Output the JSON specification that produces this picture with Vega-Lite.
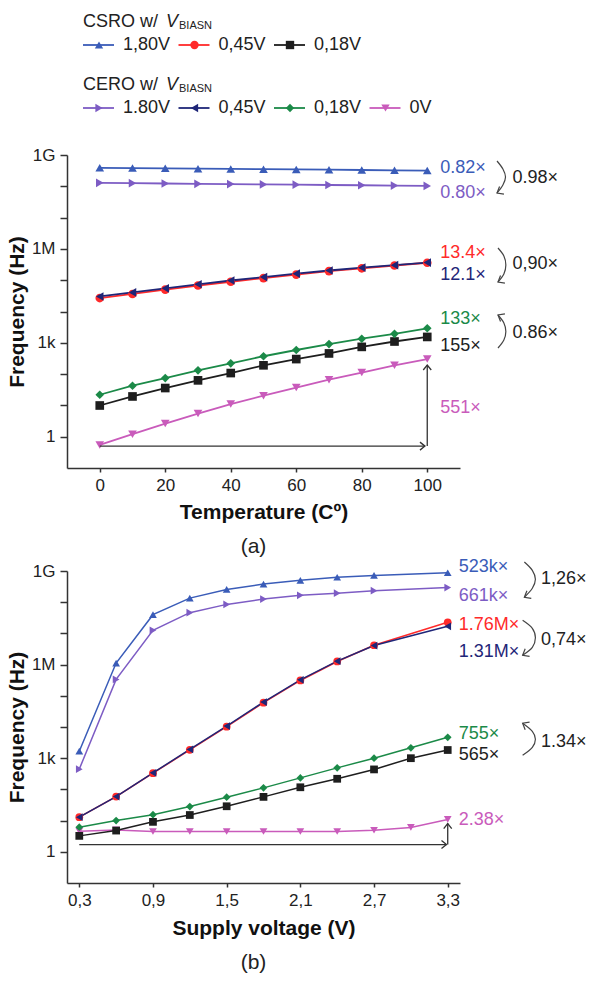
{
"$schema":"https://vega.github.io/schema/vega-lite/v6.json",
"background":"white",
"padding":{"left":6,"top":0,"right":5,"bottom":5},
"bounds":"flush",
"spacing":103,
"resolve":{"scale":{"x":"independent","y":"independent"}},
"config":{"view":{"stroke":null},"font":"Liberation Sans",
 "axis":{"grid":false,"domainColor":"#333","domainWidth":1.5,"tickColor":"#333","tickWidth":1.5,"labelFontSize":17,"labelColor":"#222","titleFontSize":21,"titleFontWeight":"bold","titleColor":"#111","labelFont":"Liberation Sans","titleFont":"Liberation Sans","labelFlush":false,"labelOverlap":false},
 "text":{"font":"Liberation Sans"}},
"datasets":{
"legend":[
 {"g":"CSRO","i":0,"s":"CSRO 1.80V","t":"1,80V"},
 {"g":"CSRO","i":1,"s":"CSRO 0.45V","t":"0,45V"},
 {"g":"CSRO","i":2,"s":"CSRO 0.18V","t":"0,18V"},
 {"g":"CERO","i":0,"s":"CERO 1.80V","t":"1.80V"},
 {"g":"CERO","i":1,"s":"CERO 0.45V","t":"0,45V"},
 {"g":"CERO","i":2,"s":"CERO 0.18V","t":"0,18V"},
 {"g":"CERO","i":3,"s":"CERO 0V","t":"0V"}],
"legendTitles":[{"g":"CSRO","t":"CSRO w/"},{"g":"CERO","t":"CERO w/"}],
"a":[
 {"x":0,"y":0.548,"s":"CERO 0V"},{"x":10,"y":1.2,"s":"CERO 0V"},{"x":20,"y":2.63,"s":"CERO 0V"},{"x":30,"y":5.5,"s":"CERO 0V"},{"x":40,"y":11.0,"s":"CERO 0V"},{"x":50,"y":20.4,"s":"CERO 0V"},{"x":60,"y":37.2,"s":"CERO 0V"},{"x":70,"y":66.1,"s":"CERO 0V"},{"x":80,"y":112,"s":"CERO 0V"},{"x":90,"y":191,"s":"CERO 0V"},{"x":100,"y":302,"s":"CERO 0V"},
 {"x":0,"y":9.93,"s":"CSRO 0.18V"},{"x":10,"y":19.3,"s":"CSRO 0.18V"},{"x":20,"y":35.9,"s":"CSRO 0.18V"},{"x":30,"y":63.1,"s":"CSRO 0.18V"},{"x":40,"y":108,"s":"CSRO 0.18V"},{"x":50,"y":191,"s":"CSRO 0.18V"},{"x":60,"y":302,"s":"CSRO 0.18V"},{"x":70,"y":457,"s":"CSRO 0.18V"},{"x":80,"y":741,"s":"CSRO 0.18V"},{"x":90,"y":1100,"s":"CSRO 0.18V"},{"x":100,"y":1540,"s":"CSRO 0.18V"},
 {"x":0,"y":21.9,"s":"CERO 0.18V"},{"x":10,"y":42.5,"s":"CERO 0.18V"},{"x":20,"y":74.8,"s":"CERO 0.18V"},{"x":30,"y":132,"s":"CERO 0.18V"},{"x":40,"y":221,"s":"CERO 0.18V"},{"x":50,"y":372,"s":"CERO 0.18V"},{"x":60,"y":589,"s":"CERO 0.18V"},{"x":70,"y":912,"s":"CERO 0.18V"},{"x":80,"y":1350,"s":"CERO 0.18V"},{"x":90,"y":1930,"s":"CERO 0.18V"},{"x":100,"y":2910,"s":"CERO 0.18V"},
 {"x":0,"y":26900,"s":"CSRO 0.45V"},{"x":10,"y":36300,"s":"CSRO 0.45V"},{"x":20,"y":50100,"s":"CSRO 0.45V"},{"x":30,"y":67600,"s":"CSRO 0.45V"},{"x":40,"y":89100,"s":"CSRO 0.45V"},{"x":50,"y":117000,"s":"CSRO 0.45V"},{"x":60,"y":151000,"s":"CSRO 0.45V"},{"x":70,"y":195000,"s":"CSRO 0.45V"},{"x":80,"y":240000,"s":"CSRO 0.45V"},{"x":90,"y":295000,"s":"CSRO 0.45V"},{"x":100,"y":361000,"s":"CSRO 0.45V"},
 {"x":0,"y":30200,"s":"CERO 0.45V"},{"x":10,"y":40700,"s":"CERO 0.45V"},{"x":20,"y":55000,"s":"CERO 0.45V"},{"x":30,"y":74100,"s":"CERO 0.45V"},{"x":40,"y":97700,"s":"CERO 0.45V"},{"x":50,"y":126000,"s":"CERO 0.45V"},{"x":60,"y":162000,"s":"CERO 0.45V"},{"x":70,"y":204000,"s":"CERO 0.45V"},{"x":80,"y":251000,"s":"CERO 0.45V"},{"x":90,"y":302000,"s":"CERO 0.45V"},{"x":100,"y":365000,"s":"CERO 0.45V"},
 {"x":0,"y":129000000,"s":"CERO 1.80V"},{"x":10,"y":126000000,"s":"CERO 1.80V"},{"x":20,"y":123000000,"s":"CERO 1.80V"},{"x":30,"y":120000000,"s":"CERO 1.80V"},{"x":40,"y":118000000,"s":"CERO 1.80V"},{"x":50,"y":115000000,"s":"CERO 1.80V"},{"x":60,"y":113000000,"s":"CERO 1.80V"},{"x":70,"y":110000000,"s":"CERO 1.80V"},{"x":80,"y":108000000,"s":"CERO 1.80V"},{"x":90,"y":105500000,"s":"CERO 1.80V"},{"x":100,"y":103000000,"s":"CERO 1.80V"},
 {"x":0,"y":389000000,"s":"CSRO 1.80V"},{"x":10,"y":381000000,"s":"CSRO 1.80V"},{"x":20,"y":374000000,"s":"CSRO 1.80V"},{"x":30,"y":367000000,"s":"CSRO 1.80V"},{"x":40,"y":360000000,"s":"CSRO 1.80V"},{"x":50,"y":353000000,"s":"CSRO 1.80V"},{"x":60,"y":346000000,"s":"CSRO 1.80V"},{"x":70,"y":339000000,"s":"CSRO 1.80V"},{"x":80,"y":332000000,"s":"CSRO 1.80V"},{"x":90,"y":325000000,"s":"CSRO 1.80V"},{"x":100,"y":319000000,"s":"CSRO 1.80V"}],
"b":[
 {"x":0.3,"y":4.57,"s":"CERO 0V"},{"x":0.6,"y":5.01,"s":"CERO 0V"},{"x":0.9,"y":4.47,"s":"CERO 0V"},{"x":1.2,"y":4.47,"s":"CERO 0V"},{"x":1.5,"y":4.47,"s":"CERO 0V"},{"x":1.8,"y":4.47,"s":"CERO 0V"},{"x":2.1,"y":4.47,"s":"CERO 0V"},{"x":2.4,"y":4.47,"s":"CERO 0V"},{"x":2.7,"y":4.9,"s":"CERO 0V"},{"x":3.0,"y":6.03,"s":"CERO 0V"},{"x":3.3,"y":10.9,"s":"CERO 0V"},
 {"x":0.3,"y":3.24,"s":"CSRO 0.18V"},{"x":0.6,"y":4.79,"s":"CSRO 0.18V"},{"x":0.9,"y":9.12,"s":"CSRO 0.18V"},{"x":1.2,"y":15.1,"s":"CSRO 0.18V"},{"x":1.5,"y":28.8,"s":"CSRO 0.18V"},{"x":1.8,"y":57.5,"s":"CSRO 0.18V"},{"x":2.1,"y":117,"s":"CSRO 0.18V"},{"x":2.4,"y":219,"s":"CSRO 0.18V"},{"x":2.7,"y":437,"s":"CSRO 0.18V"},{"x":3.0,"y":1000,"s":"CSRO 0.18V"},{"x":3.3,"y":1830,"s":"CSRO 0.18V"},
 {"x":0.3,"y":6.17,"s":"CERO 0.18V"},{"x":0.6,"y":10.0,"s":"CERO 0.18V"},{"x":0.9,"y":15.5,"s":"CERO 0.18V"},{"x":1.2,"y":28.2,"s":"CERO 0.18V"},{"x":1.5,"y":56.2,"s":"CERO 0.18V"},{"x":1.8,"y":112,"s":"CERO 0.18V"},{"x":2.1,"y":234,"s":"CERO 0.18V"},{"x":2.4,"y":490,"s":"CERO 0.18V"},{"x":2.7,"y":1000,"s":"CERO 0.18V"},{"x":3.0,"y":2150,"s":"CERO 0.18V"},{"x":3.3,"y":4660,"s":"CERO 0.18V"},
 {"x":0.3,"y":12.9,"s":"CSRO 0.45V"},{"x":0.6,"y":58.9,"s":"CSRO 0.45V"},{"x":0.9,"y":330,"s":"CSRO 0.45V"},{"x":1.2,"y":1850,"s":"CSRO 0.45V"},{"x":1.5,"y":10200,"s":"CSRO 0.45V"},{"x":1.8,"y":60000,"s":"CSRO 0.45V"},{"x":2.1,"y":310000,"s":"CSRO 0.45V"},{"x":2.4,"y":1260000,"s":"CSRO 0.45V"},{"x":2.7,"y":4170000,"s":"CSRO 0.45V"},{"x":3.3,"y":22700000,"s":"CSRO 0.45V"},
 {"x":0.3,"y":12.9,"s":"CERO 0.45V"},{"x":0.6,"y":58.9,"s":"CERO 0.45V"},{"x":0.9,"y":339,"s":"CERO 0.45V"},{"x":1.2,"y":1905,"s":"CERO 0.45V"},{"x":1.5,"y":10700,"s":"CERO 0.45V"},{"x":1.8,"y":63100,"s":"CERO 0.45V"},{"x":2.1,"y":324000,"s":"CERO 0.45V"},{"x":2.4,"y":1290000,"s":"CERO 0.45V"},{"x":2.7,"y":4070000,"s":"CERO 0.45V"},{"x":3.3,"y":16900000,"s":"CERO 0.45V"},
 {"x":0.3,"y":446,"s":"CERO 1.80V"},{"x":0.6,"y":335000,"s":"CERO 1.80V"},{"x":0.9,"y":12600000,"s":"CERO 1.80V"},{"x":1.2,"y":46200000,"s":"CERO 1.80V"},{"x":1.5,"y":85100000,"s":"CERO 1.80V"},{"x":1.8,"y":126000000,"s":"CERO 1.80V"},{"x":2.1,"y":166000000,"s":"CERO 1.80V"},{"x":2.4,"y":195000000,"s":"CERO 1.80V"},{"x":2.7,"y":234000000,"s":"CERO 1.80V"},{"x":3.3,"y":295000000,"s":"CERO 1.80V"},
 {"x":0.3,"y":1680,"s":"CSRO 1.80V"},{"x":0.6,"y":1120000,"s":"CSRO 1.80V"},{"x":0.9,"y":39800000,"s":"CSRO 1.80V"},{"x":1.2,"y":135000000,"s":"CSRO 1.80V"},{"x":1.5,"y":257000000,"s":"CSRO 1.80V"},{"x":1.8,"y":380000000,"s":"CSRO 1.80V"},{"x":2.1,"y":501000000,"s":"CSRO 1.80V"},{"x":2.4,"y":631000000,"s":"CSRO 1.80V"},{"x":2.7,"y":724000000,"s":"CSRO 1.80V"},{"x":3.3,"y":879000000,"s":"CSRO 1.80V"}],
"annA":[
 {"x":100,"y":385000000,"t":"0.82×","s":"CSRO 1.80V"},
 {"x":100,"y":59700000,"t":"0.80×","s":"CERO 1.80V"},
 {"x":100,"y":760000,"t":"13.4×","s":"CSRO 0.45V"},
 {"x":100,"y":147000,"t":"12.1×","s":"CERO 0.45V"},
 {"x":100,"y":5620,"t":"133×","s":"CERO 0.18V"},
 {"x":100,"y":794,"t":"155×","s":"CSRO 0.18V"},
 {"x":100,"y":8.26,"t":"551×","s":"CERO 0V"},
 {"x":126,"y":184000000,"t":"0.98×","s":"ratio"},
 {"x":126,"y":330000,"t":"0,90×","s":"ratio"},
 {"x":126,"y":2040,"t":"0.86×","s":"ratio"}],
"annB":[
 {"x":3.3,"y":1350000000,"t":"523k×","s":"CSRO 1.80V"},
 {"x":3.3,"y":158000000,"t":"661k×","s":"CERO 1.80V"},
 {"x":3.3,"y":19000000,"t":"1.76M×","s":"CSRO 0.45V"},
 {"x":3.3,"y":2500000,"t":"1.31M×","s":"CERO 0.45V"},
 {"x":3.3,"y":6100,"t":"755×","s":"CERO 0.18V"},
 {"x":3.3,"y":1230,"t":"565×","s":"CSRO 0.18V"},
 {"x":3.3,"y":10.2,"t":"2.38×","s":"CERO 0V"},
 {"x":4.06,"y":570000000,"t":"1,26×","s":"ratio"},
 {"x":4.06,"y":6000000,"t":"0,74×","s":"ratio"},
 {"x":4.06,"y":3300,"t":"1.34×","s":"ratio"}],
"arcA":[
 {"a":1,"k":0,"x":121.3,"y":643000000},{"a":1,"k":1,"x":123.1,"y":357000000},{"a":1,"k":2,"x":123.9,"y":198000000},{"a":1,"k":3,"x":123.1,"y":110000000},{"a":1,"k":4,"x":121.3,"y":61100000},
 {"a":2,"k":0,"x":121.6,"y":1070000},{"a":2,"k":1,"x":123.4,"y":593000},{"a":2,"k":2,"x":124.0,"y":306000},{"a":2,"k":3,"x":123.4,"y":158000},{"a":2,"k":4,"x":121.6,"y":87500},
 {"a":3,"k":0,"x":121.6,"y":7730},{"a":3,"k":1,"x":123.4,"y":4300},{"a":3,"k":2,"x":124.0,"y":2300},{"a":3,"k":3,"x":123.4,"y":1230},{"a":3,"k":4,"x":121.6,"y":682}],
"headA":[
 {"x":121.3,"y":61100000,"d":"dl"},{"x":121.6,"y":87500,"d":"dl"},{"x":121.6,"y":7730,"d":"ul"},{"x":99.3,"y":0.5,"d":"r"},{"x":100,"y":195,"d":"u"}],
"ruleA":[{"x":0,"x2":99.3,"y":0.5,"y2":0.5},{"x":100,"x2":100,"y":0.5,"y2":195}],
"arcB":[
 {"a":1,"k":0,"x":3.924,"y":1940000000},{"a":1,"k":1,"x":3.989,"y":1050000000},{"a":1,"k":2,"x":4.014,"y":542000000},{"a":1,"k":3,"x":3.989,"y":279000000},{"a":1,"k":4,"x":3.924,"y":144000000},
 {"a":2,"k":0,"x":3.91,"y":26300000},{"a":2,"k":1,"x":3.989,"y":14600000},{"a":2,"k":2,"x":4.014,"y":7230000},{"a":2,"k":3,"x":3.989,"y":3580000},{"a":2,"k":4,"x":3.91,"y":1990000},
 {"a":3,"k":0,"x":3.91,"y":13200},{"a":3,"k":1,"x":3.989,"y":7280},{"a":3,"k":2,"x":4.014,"y":4040},{"a":3,"k":3,"x":3.989,"y":2240},{"a":3,"k":4,"x":3.91,"y":1240}],
"headB":[
 {"x":3.924,"y":144000000,"d":"dl"},{"x":3.91,"y":1990000,"d":"dl"},{"x":3.91,"y":13200,"d":"ul"},{"x":3.29,"y":1.7,"d":"r"},{"x":3.3,"y":8.0,"d":"u"}],
"ruleB":[{"x":0.3,"x2":3.29,"y":1.7,"y2":1.7},{"x":3.3,"x2":3.3,"y":1.7,"y2":8.0}]
},
"vconcat":[
{
 "width":450,"height":52,
 "layer":[
  {"data":{"name":"legend"},"mark":{"type":"rule","x2Offset":31,"strokeWidth":1.8},
   "encoding":{"x":{"field":"i","type":"quantitative","scale":{"domain":[0,4],"range":[16,398]},"axis":null},"x2":{"field":"i"},
    "y":{"field":"g","type":"nominal","scale":{"type":"point","domain":["CSRO","CERO"],"range":[45,108],"padding":0},"axis":null},
    "color":{"field":"s","type":"nominal","legend":null,"scale":{"domain":["CSRO 1.80V","CSRO 0.45V","CSRO 0.18V","CERO 1.80V","CERO 0.45V","CERO 0.18V","CERO 0V"],"range":["#3a5cb8","#ff2a2a","#1e1e1e","#7d5cc4","#1f2678","#1b8a48","#c95bbb"]}}}},
  {"data":{"name":"legend"},"mark":{"type":"point","filled":true,"size":70,"opacity":1,"xOffset":16},
   "encoding":{"x":{"field":"i","type":"quantitative"},"y":{"field":"g","type":"nominal"},
    "color":{"field":"s","type":"nominal","legend":null},
    "shape":{"field":"s","type":"nominal","legend":null,"scale":{"domain":["CSRO 1.80V","CSRO 0.45V","CSRO 0.18V","CERO 1.80V","CERO 0.45V","CERO 0.18V","CERO 0V"],"range":["triangle-up","circle","square","triangle-right","triangle-left","diamond","triangle-down"]}}}},
  {"data":{"name":"legend"},"mark":{"type":"text","align":"left","baseline":"middle","dx":40,"fontSize":18,"fill":"#222"},
   "encoding":{"x":{"field":"i","type":"quantitative"},"y":{"field":"g","type":"nominal"},"text":{"field":"t"}}},
  {"data":{"name":"legendTitles"},"mark":{"type":"text","align":"left","baseline":"middle","dx":0,"dy":-23,"fontSize":18,"fill":"#222"},
   "encoding":{"x":{"datum":0,"type":"quantitative"},"y":{"field":"g","type":"nominal"},"text":{"field":"t"}}},
  {"data":{"name":"legendTitles"},"mark":{"type":"text","align":"left","baseline":"middle","dx":83,"dy":-23,"fontSize":18,"fontStyle":"italic","fill":"#222"},
   "encoding":{"x":{"datum":0,"type":"quantitative"},"y":{"field":"g","type":"nominal"},"text":{"value":"V"}}},
  {"data":{"name":"legendTitles"},"mark":{"type":"text","align":"left","baseline":"middle","dx":96,"dy":-19,"fontSize":11,"fill":"#222"},
   "encoding":{"x":{"datum":0,"type":"quantitative"},"y":{"field":"g","type":"nominal"},"text":{"value":"BIASN"}}}
 ]
},
{
 "width":393,"height":313,
 "title":{"text":"(a)","orient":"bottom","fontSize":21,"fontWeight":"normal","font":"Liberation Sans","color":"#222","offset":14,"dx":-10},
 "layer":[
  {"data":{"name":"a"},"mark":{"type":"line","strokeWidth":1.8},
   "encoding":{
    "x":{"field":"x","type":"quantitative","scale":{"domain":[-10,110],"nice":false,"zero":false},
      "axis":{"title":"Temperature (Cº)","values":[0,10,20,30,40,50,60,70,80,90,100],"labelExpr":"indexof(['0','20','40','60','80','100'], format(datum.value,'.0f'))>=0 ? format(datum.value,'.0f') : ''","tickSize":4,"labelPadding":5,"titlePadding":8}},
    "y":{"field":"y","type":"quantitative","scale":{"type":"log","domain":[0.1,1000000000],"nice":false},
      "axis":{"title":"Frequency (Hz)","values":[1,10,100,1000,10000,100000,1000000,10000000,100000000,1000000000],"labelExpr":"round(log(datum.value)/LN10)==0?'1':round(log(datum.value)/LN10)==3?'1k':round(log(datum.value)/LN10)==6?'1M':round(log(datum.value)/LN10)==9?'1G':''","tickSize":7,"labelPadding":5,"titlePadding":4}},
    "color":{"field":"s","type":"nominal","legend":null,"scale":{"domain":["CSRO 1.80V","CSRO 0.45V","CSRO 0.18V","CERO 1.80V","CERO 0.45V","CERO 0.18V","CERO 0V"],"range":["#3a5cb8","#ff2a2a","#1e1e1e","#7d5cc4","#1f2678","#1b8a48","#c95bbb"]}}}},
  {"data":{"name":"a"},"mark":{"type":"point","filled":true,"size":75,"opacity":1},
   "encoding":{"x":{"field":"x","type":"quantitative"},"y":{"field":"y","type":"quantitative"},
    "color":{"field":"s","type":"nominal","legend":null},
    "shape":{"field":"s","type":"nominal","legend":null,"scale":{"domain":["CSRO 1.80V","CSRO 0.45V","CSRO 0.18V","CERO 1.80V","CERO 0.45V","CERO 0.18V","CERO 0V"],"range":["triangle-up","circle","square","triangle-right","triangle-left","diamond","triangle-down"]}}}},
  {"data":{"name":"ruleA"},"mark":{"type":"rule","color":"#333","strokeWidth":1.3},
   "encoding":{"x":{"field":"x","type":"quantitative"},"x2":{"field":"x2"},"y":{"field":"y","type":"quantitative"},"y2":{"field":"y2"}}},
  {"data":{"name":"arcA"},"mark":{"type":"line","color":"#444","strokeWidth":1.2,"interpolate":"cardinal"},
   "encoding":{"x":{"field":"x","type":"quantitative"},"y":{"field":"y","type":"quantitative"},"detail":{"field":"a"},"order":{"field":"k"}}},
  {"data":{"name":"headA"},"transform":[{"filter":"datum.d=='dl'"}],"mark":{"type":"point","shape":"M-0.8,-1L0,0L0.8,-1","filled":false,"stroke":"#444","strokeWidth":1.2,"size":120,"angle":60,"opacity":1},
   "encoding":{"x":{"field":"x","type":"quantitative"},"y":{"field":"y","type":"quantitative"}}},
  {"data":{"name":"headA"},"transform":[{"filter":"datum.d=='ul'"}],"mark":{"type":"point","shape":"M-0.8,-1L0,0L0.8,-1","filled":false,"stroke":"#444","strokeWidth":1.2,"size":120,"angle":120,"opacity":1},
   "encoding":{"x":{"field":"x","type":"quantitative"},"y":{"field":"y","type":"quantitative"}}},
  {"data":{"name":"headA"},"transform":[{"filter":"datum.d=='r'"}],"mark":{"type":"point","shape":"M-0.8,-1L0,0L0.8,-1","filled":false,"stroke":"#333","strokeWidth":1.3,"size":100,"angle":270,"opacity":1},
   "encoding":{"x":{"field":"x","type":"quantitative"},"y":{"field":"y","type":"quantitative"}}},
  {"data":{"name":"headA"},"transform":[{"filter":"datum.d=='u'"}],"mark":{"type":"point","shape":"M-0.8,-1L0,0L0.8,-1","filled":false,"stroke":"#333","strokeWidth":1.3,"size":100,"angle":180,"opacity":1},
   "encoding":{"x":{"field":"x","type":"quantitative"},"y":{"field":"y","type":"quantitative"}}},
  {"data":{"name":"annA"},"transform":[{"filter":"datum.s!='ratio'"}],"mark":{"type":"text","align":"left","baseline":"middle","dx":13,"fontSize":18},
   "encoding":{"x":{"field":"x","type":"quantitative"},"y":{"field":"y","type":"quantitative"},"text":{"field":"t"},"color":{"field":"s","type":"nominal","legend":null}}},
  {"data":{"name":"annA"},"transform":[{"filter":"datum.s=='ratio'"}],"mark":{"type":"text","align":"left","baseline":"middle","fontSize":18,"fill":"#222"},
   "encoding":{"x":{"field":"x","type":"quantitative"},"y":{"field":"y","type":"quantitative"},"text":{"field":"t"}}}
 ]
},
{
 "width":393,"height":312,
 "title":{"text":"(b)","orient":"bottom","fontSize":21,"fontWeight":"normal","font":"Liberation Sans","color":"#222","offset":14,"dx":-10},
 "layer":[
  {"data":{"name":"b"},"mark":{"type":"line","strokeWidth":1.5},
   "encoding":{
    "x":{"field":"x","type":"quantitative","scale":{"domain":[0.2,3.4],"nice":false,"zero":false},
      "axis":{"title":"Supply voltage (V)","values":[0.3,0.6,0.9,1.2,1.5,1.8,2.1,2.4,2.7,3.0,3.3],"labelExpr":"indexof(['0.3','0.9','1.5','2.1','2.7','3.3'], format(datum.value,'.1f'))>=0 ? replace(format(datum.value,'.1f'),'.',',') : ''","tickSize":4,"labelPadding":5,"titlePadding":9}},
    "y":{"field":"y","type":"quantitative","scale":{"type":"log","domain":[0.1,1000000000],"nice":false},
      "axis":{"title":"Frequency (Hz)","values":[1,10,100,1000,10000,100000,1000000,10000000,100000000,1000000000],"labelExpr":"round(log(datum.value)/LN10)==0?'1':round(log(datum.value)/LN10)==3?'1k':round(log(datum.value)/LN10)==6?'1M':round(log(datum.value)/LN10)==9?'1G':''","tickSize":7,"labelPadding":5,"titlePadding":4}},
    "color":{"field":"s","type":"nominal","legend":null,"scale":{"domain":["CSRO 1.80V","CSRO 0.45V","CSRO 0.18V","CERO 1.80V","CERO 0.45V","CERO 0.18V","CERO 0V"],"range":["#3a5cb8","#ff2a2a","#1e1e1e","#7d5cc4","#1f2678","#1b8a48","#c95bbb"]}}}},
  {"data":{"name":"b"},"mark":{"type":"point","filled":true,"size":60,"opacity":1},
   "encoding":{"x":{"field":"x","type":"quantitative"},"y":{"field":"y","type":"quantitative"},
    "color":{"field":"s","type":"nominal","legend":null},
    "shape":{"field":"s","type":"nominal","legend":null,"scale":{"domain":["CSRO 1.80V","CSRO 0.45V","CSRO 0.18V","CERO 1.80V","CERO 0.45V","CERO 0.18V","CERO 0V"],"range":["triangle-up","circle","square","triangle-right","triangle-left","diamond","triangle-down"]}}}},
  {"data":{"name":"ruleB"},"mark":{"type":"rule","color":"#333","strokeWidth":1.3},
   "encoding":{"x":{"field":"x","type":"quantitative"},"x2":{"field":"x2"},"y":{"field":"y","type":"quantitative"},"y2":{"field":"y2"}}},
  {"data":{"name":"arcB"},"mark":{"type":"line","color":"#444","strokeWidth":1.2,"interpolate":"cardinal"},
   "encoding":{"x":{"field":"x","type":"quantitative"},"y":{"field":"y","type":"quantitative"},"detail":{"field":"a"},"order":{"field":"k"}}},
  {"data":{"name":"headB"},"transform":[{"filter":"datum.d=='dl'"}],"mark":{"type":"point","shape":"M-0.8,-1L0,0L0.8,-1","filled":false,"stroke":"#444","strokeWidth":1.2,"size":120,"angle":60,"opacity":1},
   "encoding":{"x":{"field":"x","type":"quantitative"},"y":{"field":"y","type":"quantitative"}}},
  {"data":{"name":"headB"},"transform":[{"filter":"datum.d=='ul'"}],"mark":{"type":"point","shape":"M-0.8,-1L0,0L0.8,-1","filled":false,"stroke":"#444","strokeWidth":1.2,"size":120,"angle":120,"opacity":1},
   "encoding":{"x":{"field":"x","type":"quantitative"},"y":{"field":"y","type":"quantitative"}}},
  {"data":{"name":"headB"},"transform":[{"filter":"datum.d=='r'"}],"mark":{"type":"point","shape":"M-0.8,-1L0,0L0.8,-1","filled":false,"stroke":"#333","strokeWidth":1.3,"size":100,"angle":270,"opacity":1},
   "encoding":{"x":{"field":"x","type":"quantitative"},"y":{"field":"y","type":"quantitative"}}},
  {"data":{"name":"headB"},"transform":[{"filter":"datum.d=='u'"}],"mark":{"type":"point","shape":"M-0.8,-1L0,0L0.8,-1","filled":false,"stroke":"#333","strokeWidth":1.3,"size":100,"angle":180,"opacity":1},
   "encoding":{"x":{"field":"x","type":"quantitative"},"y":{"field":"y","type":"quantitative"}}},
  {"data":{"name":"annB"},"transform":[{"filter":"datum.s!='ratio'"}],"mark":{"type":"text","align":"left","baseline":"middle","dx":11,"fontSize":18},
   "encoding":{"x":{"field":"x","type":"quantitative"},"y":{"field":"y","type":"quantitative"},"text":{"field":"t"},"color":{"field":"s","type":"nominal","legend":null}}},
  {"data":{"name":"annB"},"transform":[{"filter":"datum.s=='ratio'"}],"mark":{"type":"text","align":"left","baseline":"middle","fontSize":18,"fill":"#222"},
   "encoding":{"x":{"field":"x","type":"quantitative"},"y":{"field":"y","type":"quantitative"},"text":{"field":"t"}}}
 ]
}
]
}
